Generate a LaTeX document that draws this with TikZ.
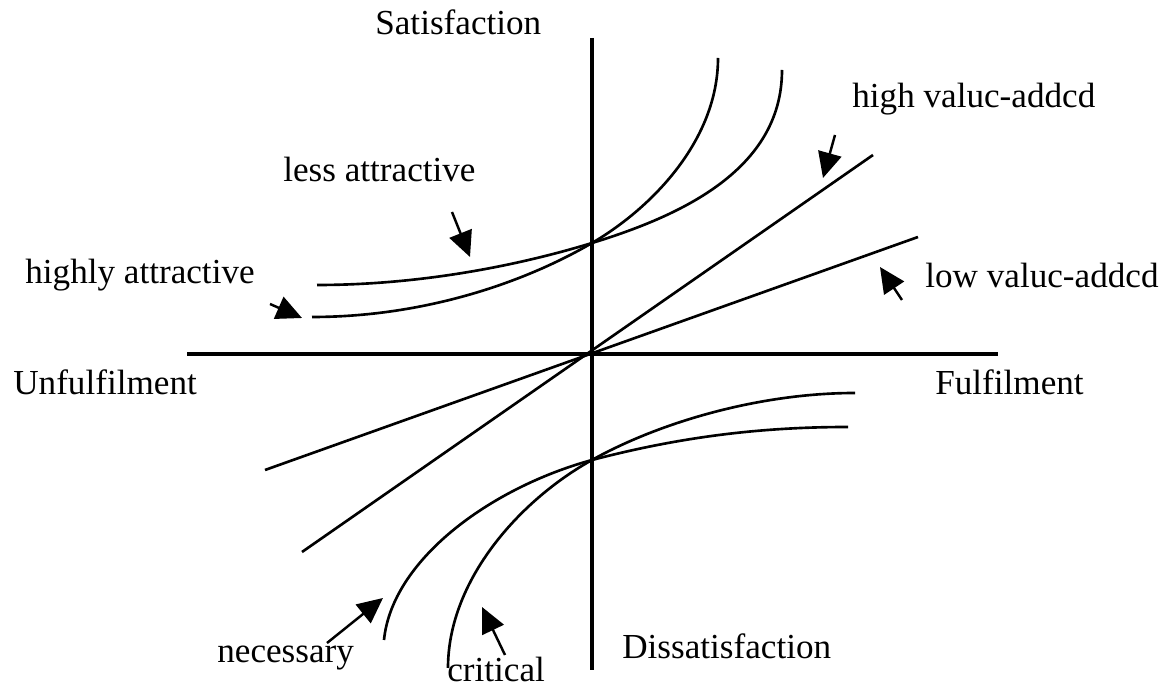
\documentclass[tikz,border=0pt]{standalone}
\usepackage{fontspec}
\setmainfont{Liberation Serif}
\usetikzlibrary{arrows.meta}
\begin{document}
\begin{tikzpicture}[x=0.02cm,y=-0.02cm,
  axis/.style={line width=2.2pt},
  curve/.style={line width=1.5pt},
  pointer/.style={line width=1.4pt,-{Triangle[length=14.5pt,width=13.5pt]}},
  lbl/.style={anchor=base west,inner sep=0pt,font=\fontsize{20}{24}\selectfont}]
\useasboundingbox (0,0) rectangle (1164,688);
% axes
\coordinate (xl) at (187,354);
\coordinate (xr) at (998,354);
\coordinate (yt) at (592,38);
\coordinate (yb) at (592,670);
\draw[axis] (xl) -- (xr);
\draw[axis] (yt) -- (yb);
% straight lines
\coordinate (hv1) at (302,552);
\coordinate (hv2) at (873,155);
\coordinate (lv1) at (265,470);
\coordinate (lv2) at (918,237);
\draw[curve] (hv1) -- (hv2);
\draw[curve] (lv1) -- (lv2);
% upper curves
\coordinate (ui) at (592,243);
\coordinate (ha0) at (312,317);
\coordinate (ha1) at (718,58);
\coordinate (la0) at (317,285);
\coordinate (la1) at (782,70);
\draw[curve] (ha0) .. controls (420,317) and (520,285) .. (ui)
                   .. controls (652,208) and (718,140) .. (ha1);
\draw[curve] (la0) .. controls (430,285) and (530,262) .. (ui)
                   .. controls (680,216) and (782,170) .. (la1);
% lower curves
\coordinate (li) at (592,460);
\coordinate (cr0) at (448,668);
\coordinate (cr1) at (855,393);
\coordinate (ne0) at (384,640);
\coordinate (ne1) at (848,427);
\draw[curve] (cr0) .. controls (448,580) and (520,500) .. (li)
                   .. controls (660,422) and (760,393) .. (cr1);
\draw[curve] (ne0) .. controls (392,560) and (490,488) .. (li)
                   .. controls (680,437) and (760,427) .. (ne1);
% labels
\node[lbl] (sat) at (375,35) {Satisfaction};
\node[lbl] (dis) at (622,659) {Dissatisfaction};
\node[lbl] (unf) at (13,395) {Unfulfilment};
\node[lbl] (ful) at (935,395) {Fulfilment};
\node[lbl] (less) at (283,182) {less attractive};
\node[lbl] (high) at (25,284) {highly attractive};
\node[lbl] (hva) at (852,108) {high valuc-addcd};
\node[lbl] (lva) at (925,288) {low valuc-addcd};
\node[lbl] (nec) at (217,663) {necessary};
\node[lbl] (cri) at (447,682) {critical};
% pointer arrows
\coordinate (a1s) at (452,212); \coordinate (a1e) at (470,257);
\coordinate (a2s) at (270,304); \coordinate (a2e) at (302,318);
\coordinate (a3s) at (835,135); \coordinate (a3e) at (823,178);
\coordinate (a4s) at (902,300); \coordinate (a4e) at (880,267);
\coordinate (a5s) at (327,643); \coordinate (a5e) at (383,598);
\coordinate (a6s) at (505,655); \coordinate (a6e) at (482,607);
\draw[pointer] (a1s) -- (a1e);
\draw[pointer] (a2s) -- (a2e);
\draw[pointer] (a3s) -- (a3e);
\draw[pointer] (a4s) -- (a4e);
\draw[pointer] (a5s) -- (a5e);
\draw[pointer] (a6s) -- (a6e);
\end{tikzpicture}
\end{document}
